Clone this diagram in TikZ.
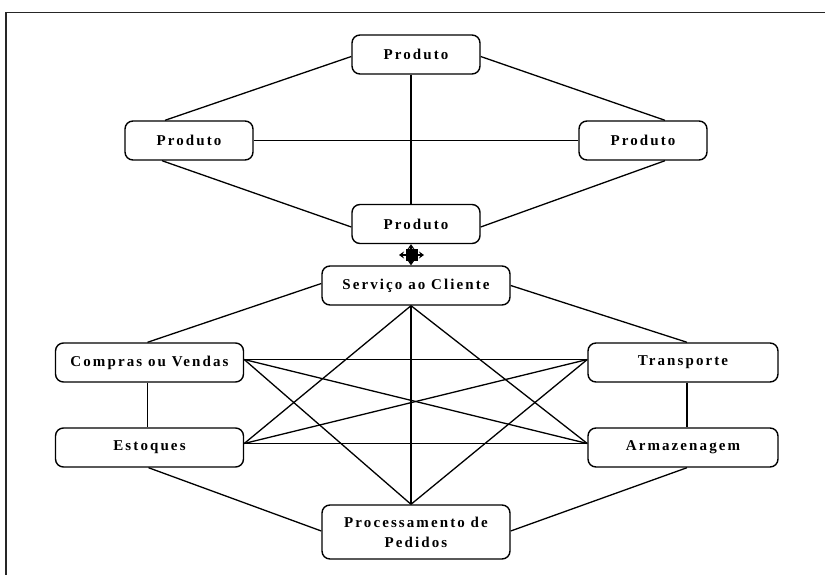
\documentclass[tikz,border=0pt]{standalone}
\usepackage{fontspec}
\setmainfont{Liberation Serif}[LetterSpace=14]
\usetikzlibrary{arrows.meta}
\begin{document}
\begin{tikzpicture}[x=1pt,y=-1pt,
  box/.style={draw, line width=1.4pt, rounded corners=8pt, fill=white,
    minimum height=39pt, inner sep=0pt, align=center,
    font=\fontsize{15}{20}\selectfont\bfseries},
  small/.style={box, minimum width=128pt},
  wide/.style={box, minimum width=188pt},
  link/.style={line width=1.3pt},
  handletip/.style={line width=1.5pt, -{Stealth[length=5pt,width=7pt]}}]
\useasboundingbox (0,0) rectangle (825,575);
% frame
\draw[line width=1.6pt, black!85] (825,12.5) -- (6,12.5) -- (6,575);

% product group
\node[small] (p1) at (416,54.5) {Produto};
\node[small] (p2) at (189,140.5) {Produto};
\node[small] (p3) at (643,140.5) {Produto};
\node[small] (p4) at (416,224) {Produto};

% logistics group
\node[wide] (svc) at (416,285.5) {Serviço ao Cliente};
\node[wide] (cv)  at (149.5,362.5) {Compras ou Vendas};
\node[wide] (est) at (149.5,447.5) {Estoques};
\node[wide, minimum width=190pt] (tr)  at (683,362.5) {Transporte};
\node[wide, minimum width=190pt] (arm) at (683,447.5) {Armazenagem};
\node[wide, minimum height=54pt] (proc) at (416,532) {Processamento de\\Pedidos};

% product links
\draw[link] ([yshift=-2]p1.west) -- ([xshift=-24]p2.north);
\draw[link] ([yshift=-2]p1.east) -- ([xshift=22]p3.north);
\draw[link] ([xshift=-27]p2.south) -- ([yshift=-3]p4.west);
\draw[link] ([xshift=22]p3.south) -- ([yshift=-3]p4.east);
\draw[link] ([xshift=-5]p1.south) -- ([xshift=-5]p4.north);
\draw[link] (p2.east) -- (p3.west);

% link between the groups, with its move handle
\coordinate (mid) at (411,255);
\draw[handletip] (mid) -- ([xshift=-5]p4.south);
\draw[handletip] (mid) -- ([xshift=-5]svc.north);
\draw[handletip] (mid) -- ([xshift=-12]mid);
\draw[handletip] (mid) -- ([xshift=13]mid);
\node[fill=black, minimum size=12pt, inner sep=0pt] (handle) at ([xshift=0.5]mid) {};

% logistics links
\draw[link] ([yshift=2]svc.west) -- ([xshift=-2]cv.north);
\draw[link] (svc.east) -- ([xshift=4]tr.north);
\draw[link] ([xshift=-2]cv.south) -- ([xshift=-2]est.north);
\draw[link] ([xshift=4]tr.south) -- ([xshift=4]arm.north);
\draw[link] ([xshift=-1]est.south) -- ([yshift=1]proc.west);
\draw[link] ([xshift=4]arm.south) -- ([yshift=1]proc.east);
\draw[link] ([xshift=-5]svc.south) -- ([xshift=-5]proc.north);
\draw[link] ([xshift=-5]svc.south) -- ([yshift=4]est.east);
\draw[link] ([xshift=-5]svc.south) -- ([yshift=4]arm.west);
\draw[link] ([xshift=-5]proc.north) -- ([yshift=3]cv.east);
\draw[link] ([xshift=-5]proc.north) -- ([yshift=3]tr.west);
\draw[link] ([yshift=3]cv.east) -- ([yshift=3]tr.west);
\draw[link] ([yshift=3]cv.east) -- ([yshift=4]arm.west);
\draw[link] ([yshift=4]est.east) -- ([yshift=3]tr.west);
\draw[link] ([yshift=4]est.east) -- ([yshift=4]arm.west);
\end{tikzpicture}
\end{document}
